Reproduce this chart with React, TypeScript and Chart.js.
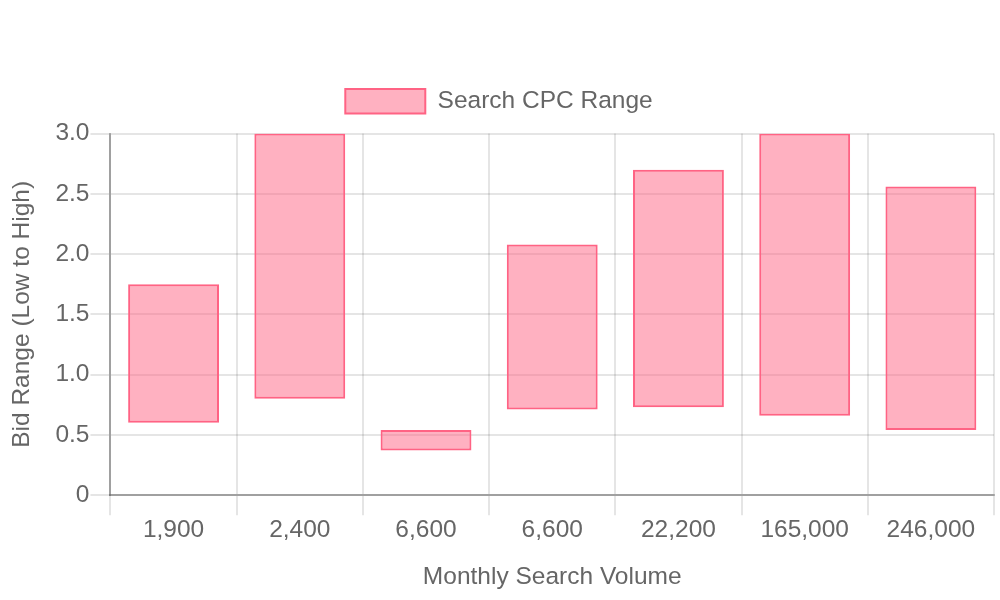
import React, { useEffect, useRef } from "react";
import { Chart, registerables } from "chart.js";

Chart.register(...registerables);

const categories = ["1,900", "2,400", "6,600", "6,600", "22,200", "165,000", "246,000"];
const lowBids = [0.6, 0.8, 0.37, 0.71, 0.73, 0.66, 0.54];
const highBids = [1.75, 3.0, 0.54, 2.08, 2.7, 3.0, 2.56];
const seriesLabel = "Search CPC Range";
const xTitle = "Monthly Search Volume";
const yTitle = "Bid Range (Low to High)";

const legendGap = {
  id: "legendGap",
  beforeInit(chart: any) {
    const legend = chart.legend;
    if (!legend) return;
    const orig = legend.fit;
    legend.fit = function () {
      orig.call(this);
      this.height += 10;
    };
  },
};

export default function App() {
  const ref = useRef<HTMLCanvasElement | null>(null);
  useEffect(() => {
    if (!ref.current) return;
    const font = { family: "'Liberation Sans', Arial, sans-serif", size: 24.5 };
    Chart.defaults.font.family = font.family;
    Chart.defaults.color = "#666";
    const chart = new Chart(ref.current, {
      type: "bar",
      data: {
        labels: categories,
        datasets: [
          {
            label: seriesLabel,
            data: lowBids.map((l, i) => [l, highBids[i]]),
            backgroundColor: "rgba(255, 99, 132, 0.5)",
            borderColor: "rgb(255, 99, 132)",
            borderWidth: 2,
            borderSkipped: false,
          },
        ],
      },
      plugins: [legendGap],
      options: {
        animation: false,
        responsive: true,
        maintainAspectRatio: false,
        layout: { padding: { top: 69, right: 6, left: 4, bottom: 4 } },
        plugins: {
          legend: {
            labels: { font, boxWidth: 80, color: "#666", padding: 20 },
          },
          tooltip: { enabled: false },
        },
        scales: {
          x: {
            title: { display: true, text: xTitle, font, color: "#666", padding: { top: 18, bottom: 4 } },
            ticks: { font, color: "#666", padding: 0 },
            grid: { tickLength: 20, color: "rgba(0,0,0,0.1)", lineWidth: 2 },
            border: { color: "rgba(0,0,0,0.3)", width: 2 },
          },
          y: {
            min: 0,
            max: 3,
            title: { display: true, text: yTitle, font, color: "#666", padding: { top: 4, bottom: 17 } },
            ticks: {
              font,
              color: "#666",
              padding: 1,
              stepSize: 0.5,
              callback: (v: any) => (v === 0 ? "0" : Number(v).toFixed(1)),
            },
            grid: { tickLength: 20, color: "rgba(0,0,0,0.1)", lineWidth: 2 },
            border: { color: "rgba(0,0,0,0.3)", width: 2 },
          },
        },
      },
    });
    return () => chart.destroy();
  }, []);
  return (
    <div style={{ position: "fixed", left: 0, top: 0, width: 1000, height: 600, background: "#fff" }}>
      <canvas ref={ref} />
    </div>
  );
}
